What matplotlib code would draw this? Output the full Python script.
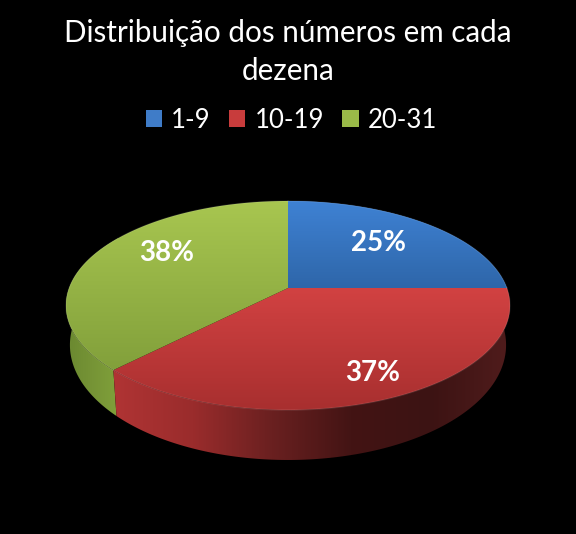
import numpy as np
import matplotlib
matplotlib.use("Agg")
import matplotlib.pyplot as plt
from matplotlib.patches import Polygon, Patch
from matplotlib.colors import LinearSegmentedColormap

title = "Distribuição dos números em cada\ndezena"
categories = ["1-9", "10-19", "20-31"]
values = [25.0, 37.4, 37.6]

top_colors = [("#3f82d4", "#2e66a9"), ("#d24242", "#a82f2f"), ("#a8c650", "#82a03b")]
wall_stops = [["#2e66a9", "#2e66a9"],
              ["#b03434", "#9a2c2c", "#6a2020", "#431414", "#3c1313", "#501c1c"],
              ["#6a8830", "#769436", "#80a03a"]]
wall_order = [0, 2, 1]
wall_range = [(288, 510), (113, 510), (66, 118)]
legend_colors = ["#3f7cc8", "#c83c3c", "#9aba48"]
label_pos = [(378, 243), (373, 373), (167, 253)]

fig = plt.figure(figsize=(5.76, 5.34), dpi=100, facecolor="black")
ax = fig.add_axes([0, 0, 1, 1])
ax.set_facecolor("black")
ax.axis("off")

CX, CY = 288.0, 288.0
K = -0.1675
TOP = dict(a=101.6, b=218.9, y0=CY)
BOT = dict(a=111.8, b=215.0, y0=325.7)


def project(theta, m):
    u, v = np.sin(theta), -np.cos(theta)
    w = 1 + K * v
    return CX + m["b"] * u / w, m["y0"] + m["a"] * v / w


def fill_gradient(patch, stops, extent, horizontal=False):
    cmap = LinearSegmentedColormap.from_list("g", stops)
    g = np.linspace(0, 1, 256)
    g = g[None, :] if horizontal else g[:, None]
    ax.add_patch(patch)
    im = ax.imshow(g, cmap=cmap, extent=extent, aspect="auto", vmin=0, vmax=1,
                   interpolation="bilinear", origin="upper", zorder=patch.get_zorder())
    im.set_clip_path(patch)


fractions = np.array(values) / sum(values)
edges = np.concatenate([[0], np.cumsum(fractions)]) * 2 * np.pi

# side walls
for i in wall_order:
    t = np.linspace(edges[i], edges[i + 1], 200)
    xt, yt = project(t, TOP)
    xb, yb = project(t, BOT)
    pts = np.c_[np.r_[xt, xb[::-1]], np.r_[yt, yb[::-1]]]
    poly = Polygon(pts, closed=True, facecolor="none", edgecolor="none", zorder=2)
    x0, x1 = wall_range[i]
    fill_gradient(poly, wall_stops[i], (x0, x1, 470, 190), horizontal=True)

# top faces
for i in range(3):
    t = np.linspace(edges[i], edges[i + 1], 200)
    xt, yt = project(t, TOP)
    pts = np.c_[np.r_[CX, xt], np.r_[CY, yt]]
    poly = Polygon(pts, closed=True, facecolor="none", edgecolor="none", zorder=3)
    ys = pts[:, 1]
    fill_gradient(poly, list(top_colors[i]), (60, 515, ys.max(), ys.min()))
    ax.plot(xt, yt, color="white", alpha=0.10, lw=1.0, zorder=4)

# percentage labels
for v, (x, y) in zip(values, label_pos):
    ax.text(x, y, f"{round(v)}%", color="white", fontsize=20, fontweight="bold",
            family="Lato", ha="center", va="center", zorder=5)

ax.text(288, 52, title, color="white", fontsize=21.3, family="Lato", ha="center",
        va="center", linespacing=1.44)

handles = [Patch(facecolor=c, edgecolor="none", linewidth=0, label=n)
           for c, n in zip(legend_colors, categories)]
leg = ax.legend(handles=handles, loc="center", bbox_to_anchor=(291.5, 120),
                bbox_transform=ax.transData, ncol=3, frameon=False,
                labelcolor="white", handlelength=0.63, handleheight=0.63,
                handletextpad=0.35, columnspacing=0.72, borderpad=0,
                prop=dict(family="Lato", size=18.5))

ax.set_xlim(0, 576)
ax.set_ylim(534, 0)
fig.savefig("out.png", dpi=100, facecolor="black")
